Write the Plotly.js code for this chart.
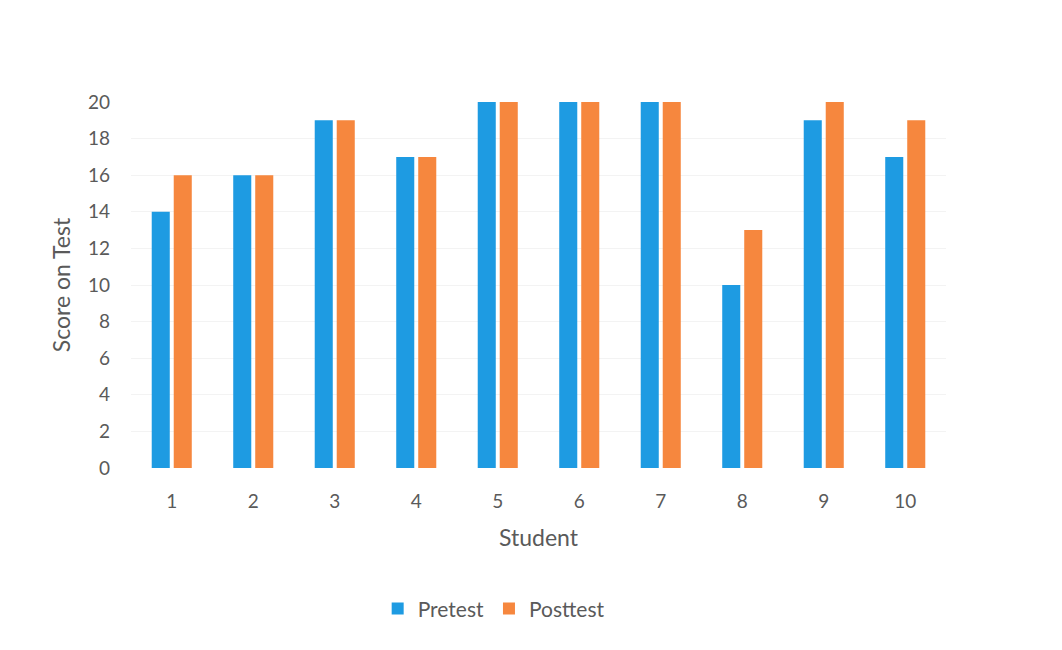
<!DOCTYPE html>
<html>
<head>
<meta charset="utf-8">
<script src="https://cdn.plot.ly/plotly-3.0.1.min.js"></script>
<style>html,body{margin:0;padding:0;background:#fff;}#chart{width:1062px;height:650px;}</style>
</head>
<body>
<div id="chart"></div>
<script>
const students = ['1','2','3','4','5','6','7','8','9','10'];
const pretest = [14,16,19,17,20,20,20,10,19,17];
const posttest = [16,16,19,17,20,20,20,13,20,19];
const yTicks = [0,2,4,6,8,10,12,14,16,18,20];

const font = {family: 'Lato, "Open Sans", sans-serif', color: '#5a5a5a', weight: 400};
const data = [
  {type:'bar', name:'Pretest', x:students, y:pretest, marker:{color:'#1e9be2'}},
  {type:'bar', name:'Posttest', x:students, y:posttest, marker:{color:'#f6873e'}}
];
const layout = {
  width:1062, height:650,
  margin:{l:131, r:116, t:102, b:182},
  paper_bgcolor:'#fff', plot_bgcolor:'#fff',
  barmode:'group', bargap:0.46, bargroupgap:0.18,
  showlegend:true,
  legend:{orientation:'h', x:0.445, xanchor:'center', y:-0.385, yanchor:'middle',
          font:Object.assign({size:21}, font), itemwidth:30},
  xaxis:{type:'category', tickfont:Object.assign({size:19}, font), ticks:'', ticklabelstandoff:20,
         showline:false, showgrid:false, zeroline:false,
         title:{text:'Student', font:Object.assign({size:23}, font), standoff:18}},
  yaxis:{range:[0,20], tickvals:yTicks, tickfont:Object.assign({size:19}, font),
         ticklabelstandoff:20, showgrid:true, gridcolor:'#f3f3f3', zeroline:false, showline:false,
         title:{text:'Score on Test', font:Object.assign({size:23}, font), standoff:10}},
  font:font
};
Plotly.newPlot('chart', data, layout, {displayModeBar:false, staticPlot:true});
</script>
</body>
</html>
